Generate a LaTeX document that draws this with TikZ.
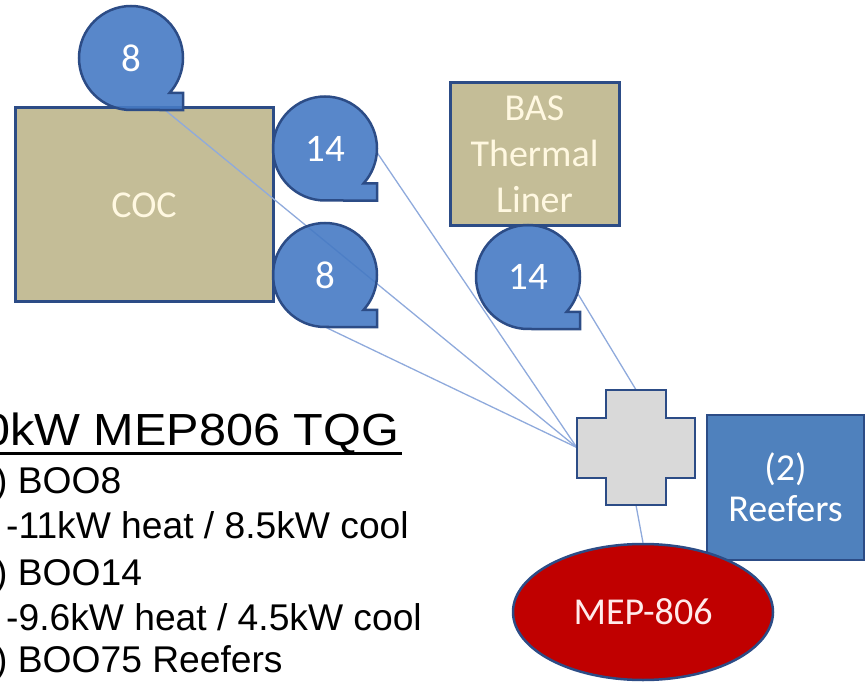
\documentclass[tikz,border=0pt]{standalone}
\usepackage{fontspec}
\setmainfont{Carlito}
\newfontfamily\arialfont{Liberation Sans}
\newfontfamily\titlefont[FakeStretch=1.08]{Liberation Sans}
\usepackage{xcolor}
\usepackage{tikz}
\usetikzlibrary{shapes.geometric,backgrounds}

\pgfdeclarelayer{base}
\pgfsetlayers{base,background,main}

\definecolor{edgeblue}{RGB}{44,76,134}
\definecolor{blowfill}{RGB}{70,122,196}
\definecolor{tanfill}{RGB}{196,189,151}
\definecolor{creamtxt}{RGB}{255,248,225}
\definecolor{plusgray}{RGB}{217,217,217}
\definecolor{reeferblue}{RGB}{79,129,189}
\definecolor{mepred}{RGB}{192,0,0}
\definecolor{wireblue}{RGB}{143,170,220}

\newcommand{\blrad}{52}
% blower: name, centre, label
\newcommand{\blower}[3]{%
	\path[blowerbody] (#2) ++(0,-\blrad) arc[start angle=-90, end angle=-402, radius=\blrad]
		-- ++({0.257*\blrad},0) -- ++(0,{-0.331*\blrad}) -- cycle;
	\node[blowernd] (#1) at (#2) {#3};}

\newcommand{\ttlrule}[1]{\setbox0=\hbox{#1}\rlap{\rule[-9.5pt]{\dimexpr\wd0+3pt\relax}{3pt}}\box0}

\begin{document}
\begin{tikzpicture}[x=1pt, y=1pt,
			blowerbody/.style={draw=edgeblue, line width=2.5pt, fill=blowfill, fill opacity=0.9},
			blowernd/.style ={circle, minimum size=104pt, inner sep=0pt, outer sep=0pt,
				text=white, font=\fontsize{39}{44}\selectfont},
			tanbox/.style   ={draw=edgeblue, line width=3pt, fill=tanfill, text=creamtxt,
				align=center, inner sep=0pt, font=\fontsize{38}{46}\selectfont},
			junction/.style ={rectangle, minimum width=118pt, minimum height=115pt, inner sep=0pt},
			plusbody/.style ={draw=edgeblue, line width=2.5pt, fill=plusgray},
			reefernd/.style ={draw=edgeblue, line width=2pt, fill=reeferblue, text=white,
				minimum width=157pt, minimum height=145pt, align=center,
				font=\fontsize{38}{41}\selectfont},
			mepnd/.style    ={ellipse, draw=edgeblue, line width=2.5pt, fill=mepred, text=white!92!red,
				minimum width=260pt, minimum height=136pt, inner sep=0pt,
				font=\fontsize{38}{44}\selectfont},
			wire/.style={line width=1.3pt, wireblue},
			titlend/.style={anchor=base west, inner sep=0pt, font=\titlefont\fontsize{45}{54}\selectfont},
			listnd/.style ={anchor=base west, inner sep=0pt, font=\arialfont\fontsize{37.2}{44}\selectfont},
			]
			\useasboundingbox (0,0) rectangle (867,-684);
			
			%% ── Shelters ─────────────────────────────────────────────────────────────────
			\begin{pgfonlayer}{base}
				\node[tanbox, minimum width=258pt, minimum height=194pt] (coc) at (144,-205) {COC};
				\node[tanbox, minimum width=169pt, minimum height=143pt] (bas) at (534.5,-154.5)
				{BAS\\Thermal\\Liner};
			\end{pgfonlayer}
			
			%% ── Blowers ──────────────────────────────────────────────────────────────────
			\blower{b8top}{131,-58}{8}
			\blower{b14r}{325,-148.5}{14}
			\blower{b8low}{325,-275}{8}
			\blower{b14bas}{528,-277}{14}
			
			%% ── Power distribution box ───────────────────────────────────────────────────
			\node[junction] (jbox) at (636,-447.5) {};
			\draw[plusbody] (jbox.center) ++(-30,57.5) -- ++(60,0) -- ++(0,-28) -- ++(29,0)
			-- ++(0,-60) -- ++(-29,0) -- ++(0,-27) -- ++(-60,0) -- ++(0,27) -- ++(-29,0)
			-- ++(0,60) -- ++(29,0) -- cycle;
			
			%% ── Reefers and generator ────────────────────────────────────────────────────
			\node[reefernd] (reefers) at (785.5,-487.5) {(2)\\Reefers};
			\node[mepnd] (mep) at (643,-612) {MEP-806};
			
			%% ── Cables ───────────────────────────────────────────────────────────────────
			\begin{scope}[on background layer]
				\draw[wire] ([xshift=34pt]b8top.south) -- (jbox.west);
				\draw[wire] ([yshift=-4pt]b14r.east) -- (jbox.west);
				\draw[wire] (b8low.south) -- (jbox.west);
				\draw[wire] (b14bas.-18) -- (jbox.north);
				\draw[wire] (jbox.south) -- (mep.north);
			\end{scope}
			
			%% ── Load list ────────────────────────────────────────────────────────────────
			\node[titlend] (ttl) at (-17,-445) {\ttlrule{0kW MEP806 TQG}};
			\node[listnd] (ln1) at (-5,-493) {) BOO8};
			\node[listnd] (ln2) at (6,-538) {-11kW heat / 8.5kW cool};
			\node[listnd] (ln3) at (-5,-585) {) BOO14};
			\node[listnd] (ln4) at (6,-630) {-9.6kW heat / 4.5kW cool};
			\node[listnd] (ln5) at (-5,-672) {) BOO75 Reefers};
			
\end{tikzpicture}
\end{document}
